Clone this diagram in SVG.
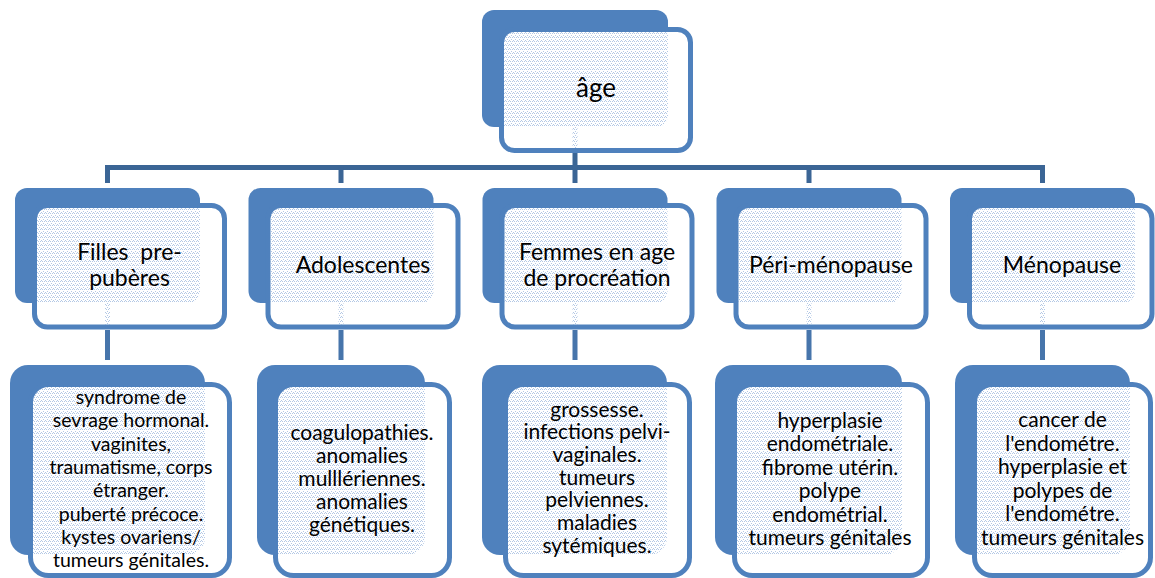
<svg xmlns="http://www.w3.org/2000/svg" width="1155" height="578" viewBox="0 0 1155 578">
<defs>
<pattern id="dots" width="4" height="4" patternUnits="userSpaceOnUse">
<rect width="4" height="4" fill="#ffffff"/>
<g fill="#b3c8e5" shape-rendering="crispEdges">
<rect x="1" y="0" width="1" height="1"/><rect x="0" y="1" width="1" height="1"/><rect x="2" y="1" width="1" height="1"/><rect x="3" y="3" width="1" height="1"/>
</g>
</pattern>
</defs>
<style>
.back{fill:#4f81bd}
.ffill{fill:#ffffff}
.fstroke{fill:none;stroke:#4f81bd;stroke-width:5}
.pat{fill:url(#dots)}
.bus{fill:none;stroke:#3b6595;stroke-width:5;stroke-linejoin:miter}
.drop{fill:none;stroke:#4775ab;stroke-width:5}
text{font-family:Lato,Carlito,"Liberation Sans",sans-serif;fill:#000;text-anchor:middle}
.t0{font-size:26px}
.t2{font-size:23px}
.t3{font-size:21px}
.t3s{font-size:19.5px}
</style>
<g id="connectors">
<path class="bus" d="M107.5 183 V167.5 H1042.5 V183"/>
<path class="bus" d="M341 167.5 V183 M575 152 V183 M809 167.5 V183"/>
<path class="drop" d="M107.5 330 V360 M341 330 V360 M575 330 V360 M809 330 V360 M1042.5 330 V360"/>
</g>
<g id="n-age">
<rect class="back" x="482" y="10" width="186" height="117" rx="12"/>
<rect class="ffill" x="501.5" y="29.5" width="189" height="121" rx="13"/>
<path class="pat" d="M504 42 A10 10 0 0 1 514 32 H668 V115 A12 12 0 0 1 656 127 H504 Z"/>
<rect class="pat" x="572.5" y="127" width="5" height="21"/>
<rect class="fstroke" x="501.5" y="29.5" width="189" height="121" rx="13"/>
<text class="t0" x="596" y="97">âge</text>
</g>
<g id="n-filles">
<rect class="back" x="15" y="188" width="185" height="115" rx="12"/>
<rect class="ffill" x="34.5" y="205.5" width="190" height="121.5" rx="13"/>
<path class="pat" d="M37 218.5 A10.5 10.5 0 0 1 47.5 208 H200 V291 A12 12 0 0 1 188 303 H37 Z"/>
<rect class="pat" x="105" y="303" width="5" height="21.5"/>
<rect class="fstroke" x="34.5" y="205.5" width="190" height="121.5" rx="13"/>
<text class="t2" x="129.5" y="260" xml:space="preserve">Filles  pre-</text>
<text class="t2" x="129.5" y="286">pubères</text>
</g>
<g id="n-ado">
<rect class="back" x="248.5" y="188" width="185" height="115" rx="12"/>
<rect class="ffill" x="268" y="205.5" width="190" height="121.5" rx="13"/>
<path class="pat" d="M270.5 218.5 A10.5 10.5 0 0 1 281 208 H433.5 V291 A12 12 0 0 1 421.5 303 H270.5 Z"/>
<rect class="pat" x="338.5" y="303" width="5" height="21.5"/>
<rect class="fstroke" x="268" y="205.5" width="190" height="121.5" rx="13"/>
<text class="t2" x="363" y="273">Adolescentes</text>
</g>
<g id="n-femmes">
<rect class="back" x="482.5" y="188" width="185" height="115" rx="12"/>
<rect class="ffill" x="502" y="205.5" width="190" height="121.5" rx="13"/>
<path class="pat" d="M504.5 218.5 A10.5 10.5 0 0 1 515 208 H667.5 V291 A12 12 0 0 1 655.5 303 H504.5 Z"/>
<rect class="pat" x="572.5" y="303" width="5" height="21.5"/>
<rect class="fstroke" x="502" y="205.5" width="190" height="121.5" rx="13"/>
<text class="t2" x="597" y="260">Femmes en age</text>
<text class="t2" x="597" y="286">de procréation</text>
</g>
<g id="n-peri">
<rect class="back" x="716.5" y="188" width="185" height="115" rx="12"/>
<rect class="ffill" x="736" y="205.5" width="190" height="121.5" rx="13"/>
<path class="pat" d="M738.5 218.5 A10.5 10.5 0 0 1 749 208 H901.5 V291 A12 12 0 0 1 889.5 303 H738.5 Z"/>
<rect class="pat" x="806.5" y="303" width="5" height="21.5"/>
<rect class="fstroke" x="736" y="205.5" width="190" height="121.5" rx="13"/>
<text class="t2" x="831" y="273">Péri-ménopause</text>
</g>
<g id="n-meno">
<rect class="back" x="950" y="188" width="185" height="115" rx="12"/>
<rect class="ffill" x="969.5" y="205.5" width="182.5" height="121.5" rx="13"/>
<path class="pat" d="M972 218.5 A10.5 10.5 0 0 1 982.5 208 H1135 V291 A12 12 0 0 1 1123 303 H972 Z"/>
<rect class="pat" x="1040" y="303" width="5" height="21.5"/>
<rect class="fstroke" x="969.5" y="205.5" width="182.5" height="121.5" rx="13"/>
<text class="t2" x="1062" y="273">Ménopause</text>
</g>
<g id="d-filles">
<rect class="back" x="10" y="365" width="195" height="190" rx="18"/>
<rect class="ffill" x="30.5" y="384.5" width="199" height="191" rx="18"/>
<path class="pat" d="M33 402.5 A15.5 15.5 0 0 1 48.5 387 H205 V537 A18 18 0 0 1 187 555 H33 Z"/>
<rect class="fstroke" x="30.5" y="384.5" width="199" height="191" rx="18"/>
<text class="t3s" x="131"><tspan x="131" y="404">syndrome de</tspan><tspan x="131" y="427.3">sevrage hormonal.</tspan><tspan x="131" y="450.6">vaginites,</tspan><tspan x="131" y="473.9">traumatisme, corps</tspan><tspan x="131" y="497.2">étranger.</tspan><tspan x="131" y="520.5">puberté précoce.</tspan><tspan x="131" y="543.8">kystes ovariens/</tspan><tspan x="131" y="567.1">tumeurs génitales.</tspan></text>
</g>
<g id="d-ado">
<rect class="back" x="257" y="365" width="168" height="190" rx="18"/>
<rect class="ffill" x="275.5" y="384.5" width="174" height="191" rx="18"/>
<path class="pat" d="M278 402.5 A15.5 15.5 0 0 1 293.5 387 H425 V537 A18 18 0 0 1 407 555 H278 Z"/>
<rect class="fstroke" x="275.5" y="384.5" width="174" height="191" rx="18"/>
<text class="t3" x="362"><tspan x="362" y="440">coagulopathies.</tspan><tspan x="362" y="463">anomalies</tspan><tspan x="362" y="486">mulllériennes.</tspan><tspan x="362" y="509">anomalies</tspan><tspan x="362" y="532">génétiques.</tspan></text>
</g>
<g id="d-femmes">
<rect class="back" x="482" y="365" width="185" height="190" rx="18"/>
<rect class="ffill" x="505.5" y="384.5" width="184" height="191" rx="18"/>
<path class="pat" d="M508 402.5 A15.5 15.5 0 0 1 523.5 387 H667 V537 A18 18 0 0 1 649 555 H508 Z"/>
<rect class="fstroke" x="505.5" y="384.5" width="184" height="191" rx="18"/>
<text class="t3" x="597"><tspan x="597" y="416.5">grossesse.</tspan><tspan x="597" y="439.2">infections pelvi-</tspan><tspan x="597" y="461.9">vaginales.</tspan><tspan x="597" y="484.6">tumeurs</tspan><tspan x="597" y="507.3">pelviennes.</tspan><tspan x="597" y="530">maladies</tspan><tspan x="597" y="552.7">sytémiques.</tspan></text>
</g>
<g id="d-peri">
<rect class="back" x="715" y="365" width="187" height="190" rx="18"/>
<rect class="ffill" x="734.5" y="384.5" width="193" height="191" rx="18"/>
<path class="pat" d="M737 402.5 A15.5 15.5 0 0 1 752.5 387 H902 V537 A18 18 0 0 1 884 555 H737 Z"/>
<rect class="fstroke" x="734.5" y="384.5" width="193" height="191" rx="18"/>
<text class="t3" x="830"><tspan x="830" y="428">hyperplasie</tspan><tspan x="830" y="451.4">endométriale.</tspan><tspan x="830" y="474.8">fibrome utérin.</tspan><tspan x="830" y="498.2">polype</tspan><tspan x="830" y="521.6">endométrial.</tspan><tspan x="830" y="545">tumeurs génitales</tspan></text>
</g>
<g id="d-meno">
<rect class="back" x="955" y="365" width="175" height="190" rx="18"/>
<rect class="ffill" x="974.5" y="384.5" width="176" height="191" rx="18"/>
<path class="pat" d="M977 402.5 A15.5 15.5 0 0 1 992.5 387 H1130 V537 A18 18 0 0 1 1112 555 H977 Z"/>
<rect class="fstroke" x="974.5" y="384.5" width="176" height="191" rx="18"/>
<text class="t3" x="1062.5"><tspan x="1062.5" y="427">cancer de</tspan><tspan x="1062.5" y="450.6">l'endométre.</tspan><tspan x="1062.5" y="474.2">hyperplasie et</tspan><tspan x="1062.5" y="497.8">polypes de</tspan><tspan x="1062.5" y="521.4">l'endométre.</tspan><tspan x="1062.5" y="545">tumeurs génitales</tspan></text>
</g>
</svg>
